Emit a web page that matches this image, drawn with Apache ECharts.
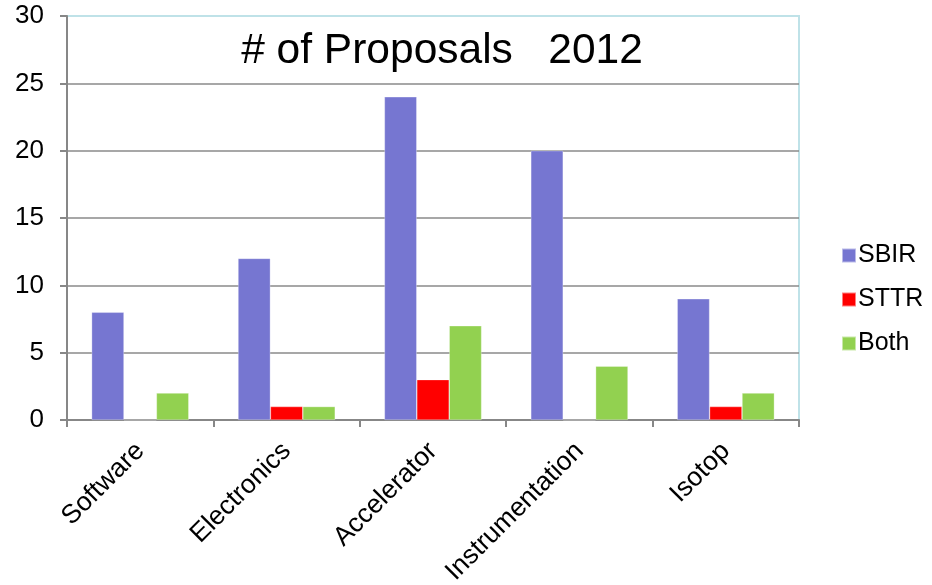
<!DOCTYPE html>
<html>
<head>
<meta charset="utf-8">
<script src="https://cdn.jsdelivr.net/npm/echarts@6/dist/echarts.min.js"></script>
<style>
  html, body { margin: 0; padding: 0; background: #fff; }
  #chart { width: 932px; height: 585px; }
</style>
</head>
<body>
<div id="chart"></div>
<script>
// Proposal counts per topic area, 2012
const categories = ['Software', 'Electronics', 'Accelerator', 'Instrumentation', 'Isotop'];
const sbir = [8, 12, 24, 20, 9];
const sttr = [0, 1, 3, 0, 1];
const both = [2, 1, 7, 4, 2];
const yTicks = [0, 5, 10, 15, 20, 25, 30];

const FONT = '"Liberation Sans", Arial, sans-serif';
const AXIS_GREY = '#878787';
const GRID_GREY = '#8a8a8a';

// Interior gridlines are grey; the top one stays hidden so the frame colour shows.
const splitColors = yTicks.map((v, i) => (i === yTicks.length - 1 ? 'rgba(0,0,0,0)' : GRID_GREY));

const chart = echarts.init(document.getElementById('chart'), null, { renderer: 'canvas' });

function barSeries(name, data, color) {
  return {
    name: name,
    type: 'bar',
    data: data,
    barGap: '0%',
    barCategoryGap: '33.6%',
    itemStyle: { color: color, borderColor: 'rgba(255,255,255,0.5)', borderWidth: 0.6 },
    emphasis: { disabled: true }
  };
}

chart.setOption({
  animation: false,
  backgroundColor: '#ffffff',
  title: {
    text: '# of Proposals   2012',
    left: 437,
    textAlign: 'center',
    top: 25,
    textStyle: { fontFamily: FONT, fontSize: 42.5, fontWeight: 'normal', color: '#000' }
  },
  legend: {
    orient: 'vertical',
    left: 841,
    top: 243,
    padding: 0,
    itemWidth: 14,
    itemHeight: 14,
    itemGap: 19,
    icon: 'rect',
    textStyle: { fontFamily: FONT, fontSize: 25, color: '#000', padding: [0, 0, 0, -3] },
    data: ['SBIR', 'STTR', 'Both']
  },
  grid: {
    left: 67,
    right: 133,
    top: 16,
    bottom: 165,
    containLabel: false,
    outerBoundsMode: 'none',
    show: true,
    borderColor: '#bfe2e8',
    borderWidth: 2
  },
  xAxis: {
    type: 'category',
    data: categories,
    axisLine: { show: true, lineStyle: { color: AXIS_GREY, width: 2 } },
    axisTick: { show: true, length: 7, lineStyle: { color: AXIS_GREY, width: 2 } },
    axisLabel: {
      rotate: 45,
      margin: 27,
      fontFamily: FONT,
      fontSize: 26.5,
      color: '#000',
      interval: 0
    }
  },
  yAxis: {
    type: 'value',
    min: yTicks[0],
    max: yTicks[yTicks.length - 1],
    interval: 5,
    axisLine: { show: true, lineStyle: { color: AXIS_GREY, width: 2 } },
    axisTick: { show: true, length: 7, lineStyle: { color: AXIS_GREY, width: 2 } },
    splitLine: { show: true, lineStyle: { color: splitColors, width: 1.5 } },
    axisLabel: {
      margin: 23,
      fontFamily: FONT,
      fontSize: 26,
      color: '#000'
    }
  },
  series: [
    barSeries('SBIR', sbir, '#7676d1'),
    barSeries('STTR', sttr, '#ff0000'),
    barSeries('Both', both, '#92d150')
  ]
});
</script>
</body>
</html>
